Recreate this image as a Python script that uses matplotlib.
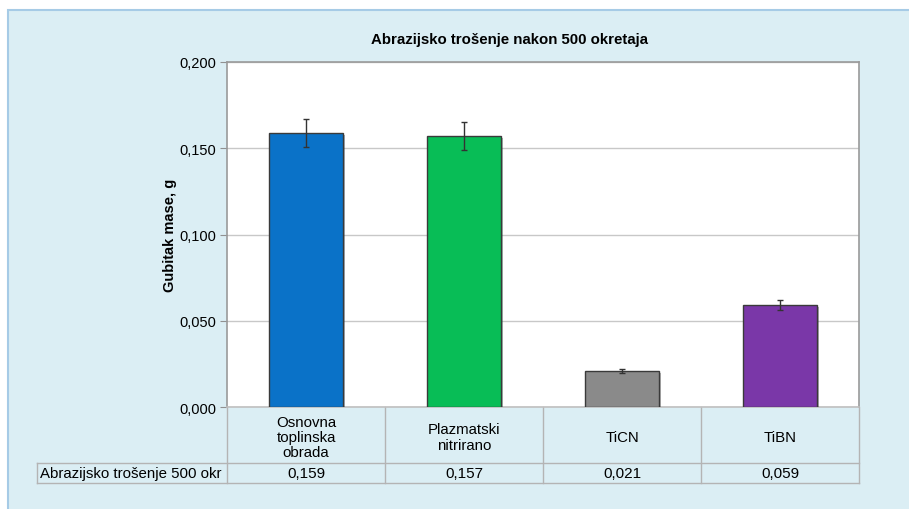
import matplotlib
matplotlib.use("Agg")
import matplotlib.pyplot as plt
import matplotlib.patheffects as pe
from matplotlib.patches import Rectangle
from matplotlib.transforms import blended_transform_factory
from matplotlib.ticker import FuncFormatter

# podaci
categories = ["Osnovna\ntoplinska\nobrada", "Plazmatski\nnitrirano", "TiCN", "TiBN"]
values = [0.159, 0.157, 0.021, 0.059]
errors = [0.008, 0.008, 0.001, 0.003]
value_labels = ["0,159", "0,157", "0,021", "0,059"]
row_label = "Abrazijsko trošenje 500 okr"
colors = ["#0A72C8", "#08BD56", "#8A8A8A", "#7A37A8"]
yticks = [0.0, 0.05, 0.1, 0.15, 0.2]

plt.rcParams['font.family'] = ['Liberation Sans', 'DejaVu Sans']

W, H = 909, 510
fig = plt.figure(figsize=(W / 100, H / 100), dpi=100)
fig.patch.set_facecolor("white")

# svijetloplava pozadina grafikona (posebna os ispod svega)
bg = "#DBEEF4"
bgax = fig.add_axes([0, 0, 1, 1], zorder=-5)
bgax.set_xlim(0, W)
bgax.set_ylim(H, 0)
bgax.axis("off")
bgax.add_patch(Rectangle((8, 11), W + 20, H + 20, facecolor=bg, edgecolor="#A6CBE6",
                         linewidth=1.5))

ax = fig.add_axes([227 / W, 1 - 408 / H, (859 - 227) / W, (408 - 63) / H])
ax.set_facecolor("white")

x = list(range(len(values)))
bars = ax.bar(x, values, width=0.47, color=colors, edgecolor="#3A3A3A", linewidth=1.0, zorder=3)
for b in bars:
    b.set_path_effects([pe.SimplePatchShadow(offset=(1.5, -1.5), alpha=0.35), pe.Normal()])
ax.errorbar(x, values, yerr=errors, fmt="none", ecolor="#333333", elinewidth=1.0,
            capsize=2.5, capthick=1.0, zorder=4)

ax.set_xlim(-0.5, 3.5)
ax.set_ylim(0, 0.2)
ax.set_yticks(yticks)
ax.yaxis.set_major_formatter(FuncFormatter(lambda v, p: f"{v:.3f}".replace(".", ",")))
ax.tick_params(axis="y", labelsize=10.5, length=5, color="#909090", pad=3)
ax.set_xticks([])
ax.grid(axis="y", color="#C8C8C8", linewidth=1.0, zorder=0)
ax.set_axisbelow(True)
for s in ["left", "right", "top", "bottom"]:
    ax.spines[s].set_color("#9A9A9A")
    ax.spines[s].set_linewidth(1.2)
ax.spines["bottom"].set_color("#C0C0C0")

ax.set_ylabel("Gubitak mase, g", fontsize=10.5, fontweight="bold", labelpad=1.5)
fig.text(509 / W, 1 - 40 / H, "Abrazijsko trošenje nakon 500 okretaja",
         ha="center", va="center", fontsize=10.8, fontweight="bold")

# tablica podataka ispod osi
tr = blended_transform_factory(ax.transData, ax.transAxes)
y1 = (408 - 464) / 345
y2 = (408 - 484) / 345
xl = (37 - 227) / 632
dy = -2 / 345
lc = "#B4B4B4"
for i in range(len(values) + 1):
    ax.plot([i - 0.5, i - 0.5], [0, y2], color=lc, lw=1, transform=tr, clip_on=False)
ax.plot([xl, 1], [y1, y1], color=lc, lw=1, transform=ax.transAxes, clip_on=False)
ax.plot([xl, 1], [y2, y2], color=lc, lw=1, transform=ax.transAxes, clip_on=False)
ax.plot([xl, xl], [y1, y2], color=lc, lw=1, transform=ax.transAxes, clip_on=False)
for i, (c, v) in enumerate(zip(categories, value_labels)):
    ax.text(i, y1 / 2 + dy, c, ha="center", va="center", multialignment="center",
            fontsize=10.8, transform=tr, linespacing=1.13)
    ax.text(i, (y1 + y2) / 2, v, ha="center", va="center", fontsize=11, transform=tr)
ax.text(xl + 0.004, (y1 + y2) / 2, row_label, ha="left", va="center", fontsize=10.8,
        transform=ax.transAxes)

fig.savefig("out.png", dpi=100)
